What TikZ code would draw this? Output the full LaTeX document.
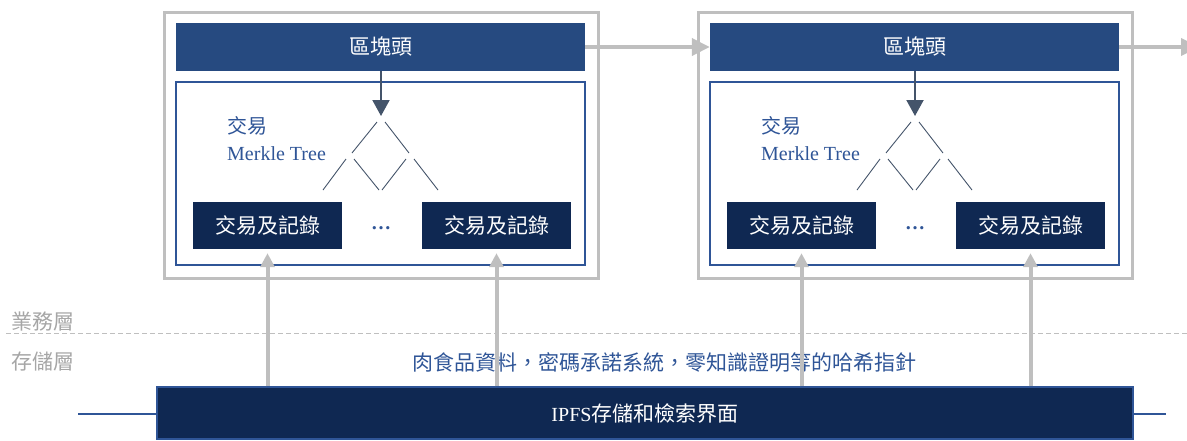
\documentclass[tikz,border=0pt]{standalone}
\usepackage{fontspec}
\setmainfont{Liberation Serif}
\newfontfamily\cjk{Noto Sans CJK TC}
\usetikzlibrary{arrows.meta,calc}
\definecolor{hdr}{HTML}{264A80}
\definecolor{navy}{HTML}{0F2852}
\definecolor{mblue}{HTML}{2F5597}
\definecolor{lgrey}{HTML}{BFBFBF}
\definecolor{slate}{HTML}{44546A}
\definecolor{lbl}{HTML}{A6A6A6}
\begin{document}
\begin{tikzpicture}[x=1pt,y=-1pt,
  outerbox/.style={draw=lgrey,line width=3pt,minimum width=434pt,minimum height=266pt,inner sep=0pt},
  hdrbox/.style={fill=hdr,text=white,minimum width=409pt,minimum height=48pt,inner sep=0pt,font=\cjk\fontsize{21}{21}\selectfont},
  innerbox/.style={draw=mblue,line width=2pt,minimum width=409pt,minimum height=183pt,inner sep=0pt},
  leafbox/.style={fill=navy,text=white,minimum width=149pt,minimum height=47pt,inner sep=0pt,font=\cjk\fontsize{21}{21}\selectfont},
  dotsnode/.style={inner sep=0pt,text=mblue,font=\bfseries\fontsize{20}{20}\selectfont},
  treelbl/.style={inner sep=0pt,text=mblue,align=left,font=\fontsize{20}{27}\selectfont},
  treeline/.style={draw=slate,line width=0.9pt},
  slatearrow/.style={draw=slate,line width=2pt,-{Triangle[width=17pt,length=16pt]}},
  hzarrow/.style={draw=lgrey,line width=4pt,-{Triangle[width=17pt,length=18pt]}},
  uparrow/.style={draw=lgrey,line width=4pt,-{Triangle[width=14pt,length=14pt]},shorten >=4pt},
  layerlbl/.style={inner sep=0pt,text=lbl,anchor=west,font=\cjk\fontsize{21}{21}\selectfont},
  storetxt/.style={inner sep=0pt,text=mblue,font=\cjk\fontsize{21}{21}\selectfont},
  ipfsbox/.style={fill=navy,draw=mblue,line width=1.5pt,text=white,minimum width=976pt,minimum height=52pt,inner sep=0pt,font=\fontsize{20}{20}\selectfont},
  sideline/.style={draw=mblue,line width=1.2pt},
  layerdash/.style={draw=lgrey,line width=1pt,dash pattern=on 5pt off 3pt}
]
\useasboundingbox (0,0) rectangle (1187,440);

\foreach \dx/\n in {0/1,534/2}{
  \begin{scope}[xshift=\dx pt]
    \node[outerbox] (outer\n) at (381,145) {};
    \node[hdrbox] (hdr\n) at (380.5,47) {區塊頭};
    \node[innerbox] (inner\n) at (380.5,173.5) {};
    \node[leafbox] (leafa\n) at (267.5,225.5) {交易及記錄};
    \node[leafbox] (leafb\n) at (496.5,225.5) {交易及記錄};
    \node[dotsnode] (dots\n) at (381,228) {…};
    \node[treelbl,anchor=west] (mlbl\n) at (227,138.5) {{\cjk\fontsize{20}{27}\selectfont 交易}\\Merkle Tree};
    \coordinate (apex\n) at (381,116);
    \draw[slatearrow] (hdr\n.south -| apex\n) -- (apex\n);
    \draw[treeline] (377,122) -- (352,153);
    \draw[treeline] (385,122) -- (409,153);
    \draw[treeline] (346,159) -- (323,190);
    \draw[treeline] (354,159) -- (379,190);
    \draw[treeline] (406,159) -- (382,190);
    \draw[treeline] (414,159) -- (438,190);
  \end{scope}
}

\coordinate (nextblk) at (1199,47);
\draw[hzarrow] (hdr1.east) -- (hdr2.west);
\draw[hzarrow] (hdr2.east) -- (nextblk);

\node[layerlbl] (biz) at (11,322) {業務層};
\node[layerlbl] (sto) at (11,362) {存儲層};
\coordinate (dashL) at (6,333);
\coordinate (dashR) at (1187,333);
\draw[layerdash] (dashL) -- (dashR);

\node[storetxt] (store) at (664.5,362) {肉食品資料，密碼承諾系統，零知識證明等的哈希指針};

\node[ipfsbox] (ipfs) at (645,413) {IPFS{\cjk\fontsize{21}{21}\selectfont 存儲和檢索界面}};
\coordinate (sideL) at (78,414);
\coordinate (sideR) at (1166,414);
\draw[sideline] (sideL) -- (sideL -| ipfs.west);
\draw[sideline] (sideR -| ipfs.east) -- (sideR);

\foreach \n in {1,2}{
  \draw[uparrow] (ipfs.north -| leafa\n.south) -- (leafa\n.south);
  \draw[uparrow] (ipfs.north -| leafb\n.south) -- (leafb\n.south);
}
\end{tikzpicture}
\end{document}
